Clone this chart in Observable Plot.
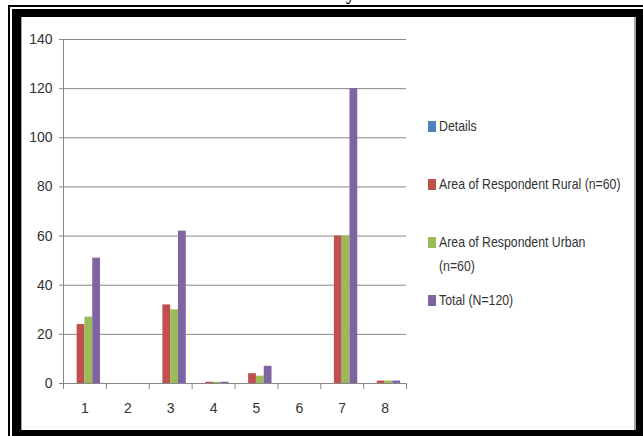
<!DOCTYPE html>
<html>
<head>
<meta charset="utf-8">
<script src="https://cdn.jsdelivr.net/npm/d3@7"></script>
<script src="https://cdn.jsdelivr.net/npm/@observablehq/plot@0.6"></script>
<style>
  body { margin: 0; background: #fff; }
  #wrap { position: relative; width: 643px; height: 436px; overflow: hidden; background: #fff;
          font-family: "Liberation Sans", Arial, sans-serif; color: #333; }
  #chart { position: absolute; left: 0; top: 0; }
  .blk { position: absolute; background: #000; }
  .gry { position: absolute; background: #a6a6a6; }
  .leg { position: absolute; left: 439px; font-size: 15px; line-height: 24px; white-space: nowrap;
         transform: scaleX(0.82); transform-origin: 0 50%; }
  .key { position: absolute; left: 428px; width: 8px; height: 11px; }
  #cut { position: absolute; left: 346px; top: -15px; font: bold 18px/18px "Liberation Serif", serif; color: #000; }
</style>
</head>
<body>
<div id="wrap">
  <div id="chart"></div>
  <div id="cut">y</div>
  <div class="blk" style="left:8px;top:5px;width:635px;height:2px"></div>
  <div class="blk" style="left:8px;top:5px;width:2px;height:431px"></div>
  <div class="blk" style="left:12px;top:9px;width:631px;height:8px"></div>
  <div class="blk" style="left:12px;top:9px;width:9px;height:427px"></div>
  <div class="blk" style="left:636px;top:9px;width:7px;height:427px"></div>
  <div class="blk" style="left:12px;top:430px;width:631px;height:6px"></div>
  <div class="gry" style="left:634px;top:17px;width:2px;height:413px"></div>
  <div class="gry" style="left:21px;top:17px;width:1px;height:413px"></div>
  <div id="legend"></div>
</div>
<script>
// ---- data ----
const categories = [1, 2, 3, 4, 5, 6, 7, 8];
const seriesNames = ["Details", "Area of Respondent Rural (n=60)", "Area of Respondent Urban (n=60)", "Total (N=120)"];
const legendLines = [["Details"], ["Area of Respondent  Rural (n=60)"], ["Area of Respondent  Urban", "(n=60)"], ["Total (N=120)"]];
const details = [null, null, null, null, null, null, null, null];
const rural = [24, 0, 32, 0.5, 4, 0, 60, 1];
const urban = [27, 0, 30, 0.5, 3, 0, 60, 1];
const total = [51, 0, 62, 0.5, 7, 0, 120, 1];
const colors = ["#4F81BD", "#C0504D", "#9BBB59", "#8064A2"];
const yTicks = [0, 20, 40, 60, 80, 100, 120, 140];

// ---- build table ----
const seriesValues = [details, rural, urban, total];
const gapWidth = 1.5; // Excel-style gap width (in bar widths)
const slots = seriesValues.length + gapWidth;
const rows = [];
seriesValues.forEach((vals, s) => {
  vals.forEach((v, i) => {
    if (v == null) return;
    const start = categories[i] - 0.5 + (gapWidth / 2 + s) / slots;
    rows.push({cat: categories[i], name: seriesNames[s], value: v, x1: start, x2: start + 1 / slots});
  });
});
const xDomain = [d3.min(categories) - 0.5, d3.max(categories) + 0.5];
const boundaries = d3.range(xDomain[0], xDomain[1] + 0.01, 1);
const axisColor = "#878787";
const fontStack = '"Liberation Sans", Arial, sans-serif';

const chart = Plot.plot({
  width: 643,
  height: 436,
  marginLeft: 63,
  marginRight: 237,
  marginTop: 39,
  marginBottom: 53,
  x: {type: "linear", domain: xDomain},
  y: {domain: [0, 140]},
  color: {domain: seriesNames, range: colors},
  style: {fontFamily: fontStack, fontSize: "14px", color: "#333", background: "transparent"},
  marks: [
    Plot.gridY(yTicks, {stroke: axisColor, strokeOpacity: 1}),
    Plot.axisY(yTicks, {tickSize: 4, tickPadding: 7, stroke: axisColor, fill: "#333", fontSize: 14, label: null}),
    Plot.rectY(rows, {x1: "x1", x2: "x2", y: "value", fill: "name"}),
    Plot.ruleX([xDomain[0]], {stroke: axisColor}),
    Plot.ruleY([0], {stroke: axisColor}),
    Plot.axisX(boundaries, {tickSize: 6, tickFormat: () => "", stroke: axisColor, label: null}),
    Plot.axisX(categories, {tickSize: 0, tickPadding: 20, fill: "#333", fontSize: 14, label: null})
  ]
});
document.getElementById("chart").appendChild(chart);

// ---- legend ----
const legendCenters = [126, 184, 242, 300];
const legend = document.getElementById("legend");
seriesNames.forEach((name, s) => {
  const key = document.createElement("div");
  key.className = "key";
  key.style.background = colors[s];
  key.style.top = (legendCenters[s] - 5.5) + "px";
  legend.appendChild(key);
  const t = document.createElement("div");
  t.className = "leg";
  t.style.top = (legendCenters[s] - 12) + "px";
  t.innerHTML = legendLines[s].join("<br>");
  legend.appendChild(t);
});
</script>
</body>
</html>
